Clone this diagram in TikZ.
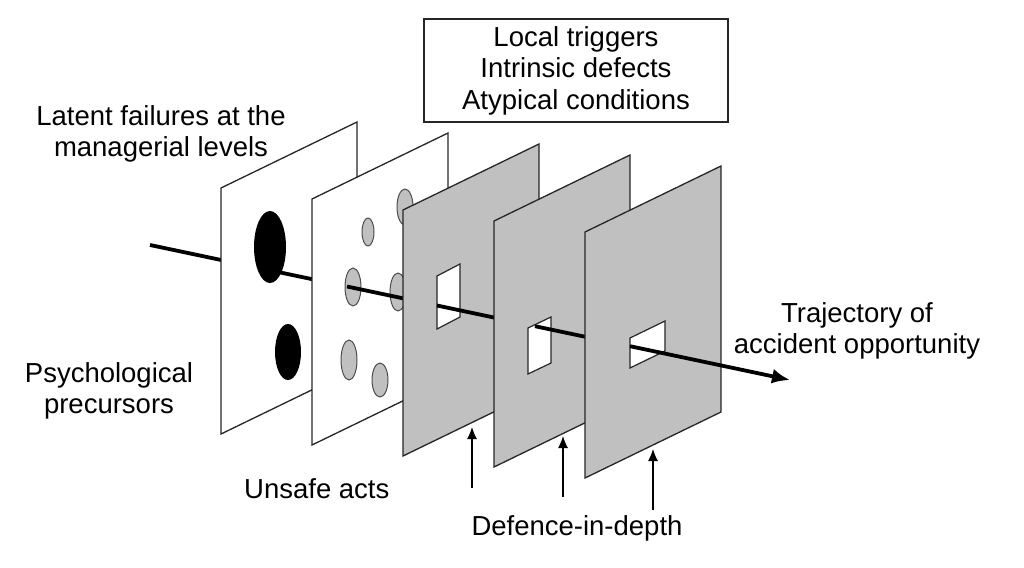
\documentclass[tikz,border=0pt]{standalone}
\usepackage{fontspec}
\setmainfont{Liberation Sans}
\usepackage{xcolor}
\usepackage{tikz}
\usetikzlibrary{arrows.meta}

\definecolor{plategray}{RGB}{192,192,192}

\begin{document}
\begin{tikzpicture}[x=1pt, y=-1pt,
  plate/.style={draw=black!85, line width=1.3pt},
  whiteplate/.style={plate, fill=white},
  grayplate/.style={plate, fill=plategray},
  hole/.style={draw=black!85, line width=1.2pt, fill=white},
  blackspot/.style={fill=black},
  grayspot/.style={draw=black!70, line width=1pt, fill=plategray},
  traj/.style={line width=3.8pt},
  defarrow/.style={-{Latex[length=12pt,width=10pt]}, line width=1.2pt},
  txt/.style={font=\fontsize{27.5}{31.5}\selectfont, inner sep=0pt, align=center}]

\useasboundingbox (0,0) rectangle (1024,567);

% pontos da trajetoria
\coordinate (t0) at (150,245);
\coordinate (p1) at (278,272);
\coordinate (p2) at (347,286.5);
\coordinate (p3) at (437,305.5);
\coordinate (p4) at (535,326.2);
\coordinate (p5) at (630,346.2);
\coordinate (t1) at (790,380);

\draw[traj] (t0) -- (p1);

% placa 1: falhas latentes
\draw[whiteplate] (221,188) -- ++(136,-66) -- ++(0,246) -- ++(-136,66) -- cycle;
\fill[blackspot] (270,247) ellipse [x radius=16pt, y radius=36pt];
\fill[blackspot] (288,352) ellipse [x radius=13pt, y radius=28pt];

\draw[traj] (p1) -- (p2);

% placa 2: atos inseguros
\draw[whiteplate] (312,199) -- ++(136,-66) -- ++(0,246) -- ++(-136,66) -- cycle;
\draw[grayspot] (368,232) ellipse [x radius=6pt, y radius=14pt];
\draw[grayspot] (405,207) ellipse [x radius=8pt, y radius=18pt];
\draw[grayspot] (353,287) ellipse [x radius=8pt, y radius=19pt];
\draw[grayspot] (398,292) ellipse [x radius=8pt, y radius=19pt];
\draw[grayspot] (349,360) ellipse [x radius=8pt, y radius=20pt];
\draw[grayspot] (380,380) ellipse [x radius=8pt, y radius=17pt];

\draw[traj] (p2) -- (p3);

% defesas
\draw[grayplate] (403,210) -- ++(136,-66) -- ++(0,246) -- ++(-136,66) -- cycle;
\draw[hole] (437,276) -- ++(23,-12) -- ++(0,53) -- ++(-23,12) -- cycle;

\draw[traj] (p3) -- (p4);

\draw[grayplate] (494,221) -- ++(136,-66) -- ++(0,246) -- ++(-136,66) -- cycle;
\draw[hole] (528,328) -- ++(23,-11) -- ++(0,46) -- ++(-23,11) -- cycle;

\draw[traj] (p4) -- (p5);

\draw[grayplate] (585,232) -- ++(136,-66) -- ++(0,246) -- ++(-136,66) -- cycle;
\draw[hole] (630,338) -- ++(35,-17) -- ++(0,30) -- ++(-35,17) -- cycle;

\draw[traj, -{Latex[length=18pt,width=15pt]}] (p5) -- (t1);

% setas de baixo
\coordinate (d1a) at (472,488);
\coordinate (d1b) at (472,427);
\coordinate (d2a) at (563,497);
\coordinate (d2b) at (563,436);
\coordinate (d3a) at (653,510);
\coordinate (d3b) at (653,449);
\draw[defarrow] (d1a) -- (d1b);
\draw[defarrow] (d2a) -- (d2b);
\draw[defarrow] (d3a) -- (d3b);

% textos
\node[txt, draw=black!85, line width=1.2pt, minimum width=304pt, minimum height=103pt]
  (triggers) at (576,70.5) {Local triggers\\Intrinsic defects\\Atypical conditions};
\node[txt] (latent) at (161,134) {Latent failures at the\\managerial levels};
\node[txt] (psych) at (109,391) {Psychological\\precursors};
\node[txt] (traject) at (857,331) {Trajectory of\\accident opportunity};
\node[txt, anchor=base west] (unsafe) at (244,498) {Unsafe acts};
\node[txt, anchor=base] (defence) at (577,535) {Defence-in-depth};

\end{tikzpicture}
\end{document}
